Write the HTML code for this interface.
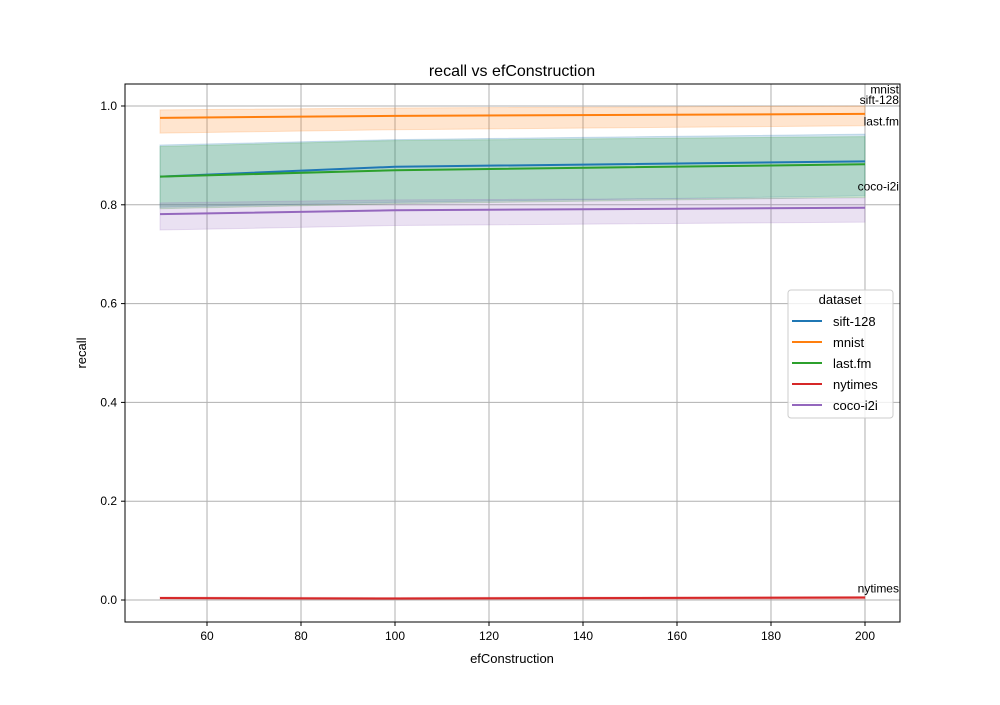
<!DOCTYPE html>
<html><head><meta charset="utf-8"><style>
body{margin:0;background:#fff}
svg text{font-family:"Liberation Sans","DejaVu Sans",sans-serif}
</style></head><body>
<svg id="chart" width="1000" height="700" xmlns="http://www.w3.org/2000/svg">
<rect width="1000" height="700" fill="#fff"/>
</svg>
<script>
const xs = [50, 100, 200];
const seriesNames = ["sift-128","mnist","last.fm","nytimes","coco-i2i"];
const colors = ["#1f77b4","#ff7f0e","#2ca02c","#d62728","#9467bd"];
const sift = [0.857, 0.877, 0.888];
const siftLo = [0.795, 0.805, 0.818];
const siftHi = [0.921, 0.932, 0.943];
const mnist = [0.976, 0.980, 0.984];
const mnistLo = [0.945, 0.952, 0.960];
const mnistHi = [0.992, 0.996, 1.000];
const lastfm = [0.857, 0.870, 0.882];
const lastfmLo = [0.792, 0.802, 0.815];
const lastfmHi = [0.918, 0.930, 0.938];
const nyt = [0.004, 0.003, 0.005];
const nytLo = [0.002, 0.001, 0.002];
const nytHi = [0.006, 0.005, 0.007];
const coco = [0.781, 0.789, 0.794];
const cocoLo = [0.749, 0.758, 0.765];
const cocoHi = [0.804, 0.810, 0.814];
const xTicks = [60,80,100,120,140,160,180,200];
const yTicks = [0.0,0.2,0.4,0.6,0.8,1.0];
const labelNames = ["mnist","sift-128","last.fm","coco-i2i","nytimes"];
const labelYs = [1.025, 1.004, 0.960, 0.829, 0.015];

const L=125,R=900,T=84,B=622;
const x0=42.55,x1=207.45,y0=-0.0445,y1=1.0445;
const sx=v=>L+(v-x0)/(x1-x0)*(R-L);
const sy=v=>B-(v-y0)/(y1-y0)*(B-T);
const svg=document.getElementById('chart');
const NS="http://www.w3.org/2000/svg";
function mk(tag,attrs,parent){const e=document.createElementNS(NS,tag);for(const k in attrs)e.setAttribute(k,attrs[k]);(parent||svg).appendChild(e);return e;}

xTicks.forEach(t=>{const l=mk('line',{x1:sx(t),x2:sx(t),y1:T,y2:B,stroke:'#b0b0b0','stroke-width':1});


const tk=mk('line',{x1:sx(t),x2:sx(t),y1:B,y2:B+4,stroke:'#000'});


const tx=mk('text',{x:sx(t),y:B+18,'text-anchor':'middle','font-size':12});tx.textContent=t;

});
yTicks.forEach(t=>{const l=mk('line',{x1:L,x2:R,y1:sy(t),y2:sy(t),stroke:'#b0b0b0','stroke-width':1});


const tk=mk('line',{x1:L-4,x2:L,y1:sy(t),y2:sy(t),stroke:'#000'});


const tx=mk('text',{x:L-8,y:sy(t)+4,'text-anchor':'end','font-size':12});tx.textContent=t.toFixed(1);

});

const all=[[sift,siftLo,siftHi],[mnist,mnistLo,mnistHi],[lastfm,lastfmLo,lastfmHi],[nyt,nytLo,nytHi],[coco,cocoLo,cocoHi]];
all.forEach((s,i)=>{
  const [m,lo,hi]=s;
  let d='M'+xs.map((x,j)=>sx(x)+','+sy(hi[j])).join('L');
  for(let j=xs.length-1;j>=0;j--) d+='L'+sx(xs[j])+','+sy(lo[j]);
  const band=mk('path',{d:d+'Z',fill:colors[i],'fill-opacity':0.2,stroke:colors[i],'stroke-opacity':0.2});
  
  
});
all.forEach((s,i)=>{
  const pl=mk('polyline',{points:xs.map((x,j)=>sx(x)+','+sy(s[0][j])).join(' '),fill:'none',stroke:colors[i],'stroke-width':2});
  
  
});
labelNames.forEach((n,i)=>{const t=mk('text',{x:sx(200)+34,y:sy(labelYs[i]),'text-anchor':'end','font-size':12});t.textContent=n;

});

const frame=mk('rect',{x:L,y:T,width:R-L,height:B-T,fill:'none',stroke:'#000','stroke-width':1});



const title=mk('text',{x:512,y:76,'text-anchor':'middle','font-size':16});title.textContent='recall vs efConstruction';


const xl=mk('text',{x:512,y:663,'text-anchor':'middle','font-size':13});xl.textContent='efConstruction';


const yl=mk('text',{x:0,y:0,'text-anchor':'middle','font-size':13,transform:'translate(86,353) rotate(-90)'});yl.textContent='recall';



const lg=mk('g',{});


mk('rect',{x:788,y:290,width:105,height:128,rx:3,fill:'#fff','fill-opacity':0.8,stroke:'#ccc'},lg);
const lt=mk('text',{x:840,y:304,'text-anchor':'middle','font-size':13},lg);lt.textContent='dataset';
seriesNames.forEach((n,i)=>{const y=321+i*21;
  const e=mk('g',{},lg);
  
  
  mk('line',{x1:792,x2:822,y1:y,y2:y,stroke:colors[i],'stroke-width':2},e);
  const t=mk('text',{x:833,y:y+5,'font-size':13},e);t.textContent=n;});
</script>
</body></html>
